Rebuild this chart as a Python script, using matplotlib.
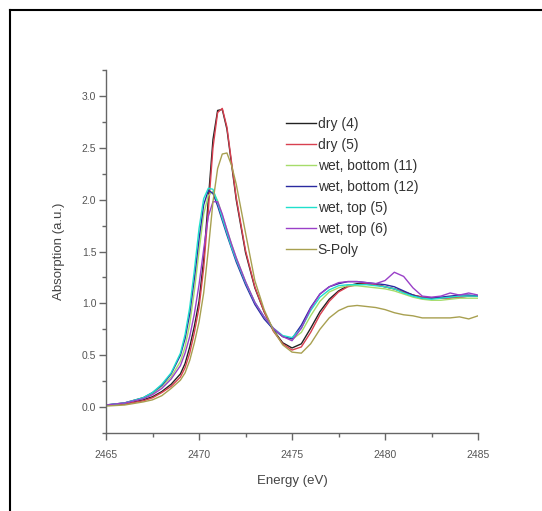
import numpy as np
import matplotlib
matplotlib.use("Agg")
import matplotlib.pyplot as plt
from matplotlib.lines import Line2D
from matplotlib.ticker import MultipleLocator

plt.rcParams['font.family'] = ['Liberation Sans', 'DejaVu Sans']

# energy grid (eV) shared by all traces
energy = [2465, 2466, 2467, 2467.5, 2468, 2468.5, 2469, 2469.25, 2469.5, 2469.75,
          2470, 2470.25, 2470.5, 2470.75, 2471, 2471.25, 2471.5, 2471.75, 2472, 2472.5,
          2473, 2473.5, 2474, 2474.5, 2475, 2475.5, 2476, 2476.5, 2477, 2477.5,
          2478, 2478.5, 2479, 2479.5, 2480, 2480.5, 2481, 2481.5, 2482, 2482.5,
          2483, 2483.5, 2484, 2484.5, 2485]

dry_4 = [0.02, 0.03, 0.07, 0.10, 0.15, 0.22, 0.32, 0.42, 0.58, 0.78,
         1.02, 1.42, 2.00, 2.58, 2.86, 2.87, 2.68, 2.34, 2.00, 1.49,
         1.15, 0.92, 0.74, 0.62, 0.57, 0.61, 0.76, 0.92, 1.04, 1.12,
         1.17, 1.19, 1.19, 1.18, 1.16, 1.14, 1.11, 1.08, 1.06, 1.05,
         1.05, 1.06, 1.06, 1.07, 1.07]

dry_5 = [0.02, 0.03, 0.06, 0.09, 0.14, 0.20, 0.29, 0.38, 0.52, 0.72,
         0.96, 1.34, 1.90, 2.50, 2.84, 2.88, 2.70, 2.36, 2.02, 1.51,
         1.16, 0.92, 0.73, 0.61, 0.55, 0.58, 0.72, 0.89, 1.02, 1.11,
         1.16, 1.18, 1.19, 1.18, 1.16, 1.14, 1.11, 1.08, 1.06, 1.05,
         1.05, 1.05, 1.06, 1.07, 1.07]

wet_bottom_11 = [0.02, 0.04, 0.09, 0.13, 0.20, 0.29, 0.44, 0.58, 0.80, 1.12,
                 1.50, 1.86, 2.04, 2.08, 1.99, 1.85, 1.71, 1.57, 1.44, 1.21,
                 1.01, 0.86, 0.75, 0.68, 0.65, 0.72, 0.88, 1.02, 1.11, 1.15,
                 1.17, 1.17, 1.16, 1.15, 1.14, 1.12, 1.09, 1.06, 1.04, 1.03,
                 1.03, 1.04, 1.05, 1.05, 1.05]

wet_bottom_12 = [0.02, 0.04, 0.09, 0.14, 0.21, 0.32, 0.50, 0.66, 0.90, 1.24,
                 1.62, 1.95, 2.09, 2.06, 1.94, 1.80, 1.66, 1.53, 1.40, 1.18,
                 0.99, 0.85, 0.75, 0.68, 0.66, 0.79, 0.96, 1.09, 1.16, 1.19,
                 1.21, 1.21, 1.20, 1.19, 1.18, 1.16, 1.12, 1.08, 1.05, 1.05,
                 1.06, 1.07, 1.08, 1.08, 1.07]

wet_top_5 = [0.02, 0.04, 0.09, 0.14, 0.22, 0.33, 0.52, 0.70, 0.96, 1.32,
             1.72, 2.01, 2.11, 2.10, 1.97, 1.82, 1.68, 1.54, 1.42, 1.20,
             1.01, 0.87, 0.76, 0.69, 0.67, 0.76, 0.93, 1.06, 1.13, 1.17,
             1.18, 1.18, 1.18, 1.17, 1.16, 1.14, 1.10, 1.07, 1.05, 1.04,
             1.05, 1.06, 1.07, 1.07, 1.07]

wet_top_6 = [0.02, 0.04, 0.08, 0.12, 0.18, 0.27, 0.40, 0.52, 0.68, 0.90,
             1.18, 1.52, 1.84, 1.98, 1.98, 1.86, 1.71, 1.57, 1.44, 1.21,
             1.01, 0.87, 0.76, 0.68, 0.64, 0.76, 0.95, 1.09, 1.16, 1.20,
             1.21, 1.21, 1.20, 1.19, 1.22, 1.30, 1.26, 1.15, 1.07, 1.06,
             1.07, 1.10, 1.08, 1.10, 1.08]

s_poly = [0.01, 0.02, 0.05, 0.07, 0.11, 0.18, 0.26, 0.33, 0.45, 0.62,
          0.82, 1.10, 1.52, 1.98, 2.30, 2.44, 2.45, 2.33, 2.15, 1.68,
          1.22, 0.94, 0.74, 0.60, 0.53, 0.52, 0.61, 0.75, 0.86, 0.93,
          0.97, 0.98, 0.97, 0.96, 0.94, 0.91, 0.89, 0.88, 0.86, 0.86,
          0.86, 0.86, 0.87, 0.85, 0.88]

labels = ["dry (4)", "dry (5)", "wet, bottom (11)", "wet, bottom (12)",
          "wet, top (5)", "wet, top (6)", "S-Poly"]
series = [dry_4, dry_5, wet_bottom_11, wet_bottom_12, wet_top_5, wet_top_6, s_poly]
colors = ["#222222", "#d84050", "#a6dc6a", "#2a2aa0", "#20e0cc", "#9a40c8", "#a8a050"]

fig = plt.figure(figsize=(5.42, 5.11), dpi=100)
ax = fig.add_axes([0.1956, 0.1526, 0.6864, 0.7104])

for y, lab, c in zip(series, labels, colors):
	ax.plot(energy, y, color=c, lw=1.0, label=lab)

ax.set_xlim(2465, 2485)
ax.set_ylim(-0.25, 3.25)
ax.xaxis.set_major_locator(MultipleLocator(5))
ax.xaxis.set_minor_locator(MultipleLocator(2.5))
ax.yaxis.set_major_locator(MultipleLocator(0.5))
ax.yaxis.set_minor_locator(MultipleLocator(0.25))
ax.yaxis.set_major_formatter(plt.FormatStrFormatter('%.1f'))

for s in ["top", "right"]:
	ax.spines[s].set_visible(False)
for s in ["left", "bottom"]:
	ax.spines[s].set_color("#666666")
	ax.spines[s].set_linewidth(1.0)
ax.tick_params(which="major", length=5, width=1, color="#666666", labelsize=7.5, labelcolor="#555555")
ax.tick_params(axis="x", which="major", pad=7)
ax.tick_params(axis="y", which="major", pad=2)
ax.tick_params(which="minor", length=3, width=1, color="#666666")

ax.set_xlabel("Energy (eV)", fontsize=9.5, color="#444444", labelpad=11)
ax.set_ylabel("Absorption (a.u.)", fontsize=9.5, color="#444444", labelpad=12)

leg = ax.legend(loc="upper left", bbox_to_anchor=(0.466, 0.89), frameon=False,
                fontsize=10, handlelength=2.15, handletextpad=0.1, labelspacing=0.5,
                borderpad=0)
for t in leg.get_texts():
	t.set_color("#333333")

# outer frame (left and top edges visible in the reference)
fig.add_artist(Line2D([10 / 542, 10 / 542], [0, 1 - 10 / 511], color="black", lw=1.5,
                      transform=fig.transFigure))
fig.add_artist(Line2D([10 / 542, 1], [1 - 10 / 511, 1 - 10 / 511], color="black", lw=1.5,
                      transform=fig.transFigure))

fig.savefig("out.png", dpi=100)
